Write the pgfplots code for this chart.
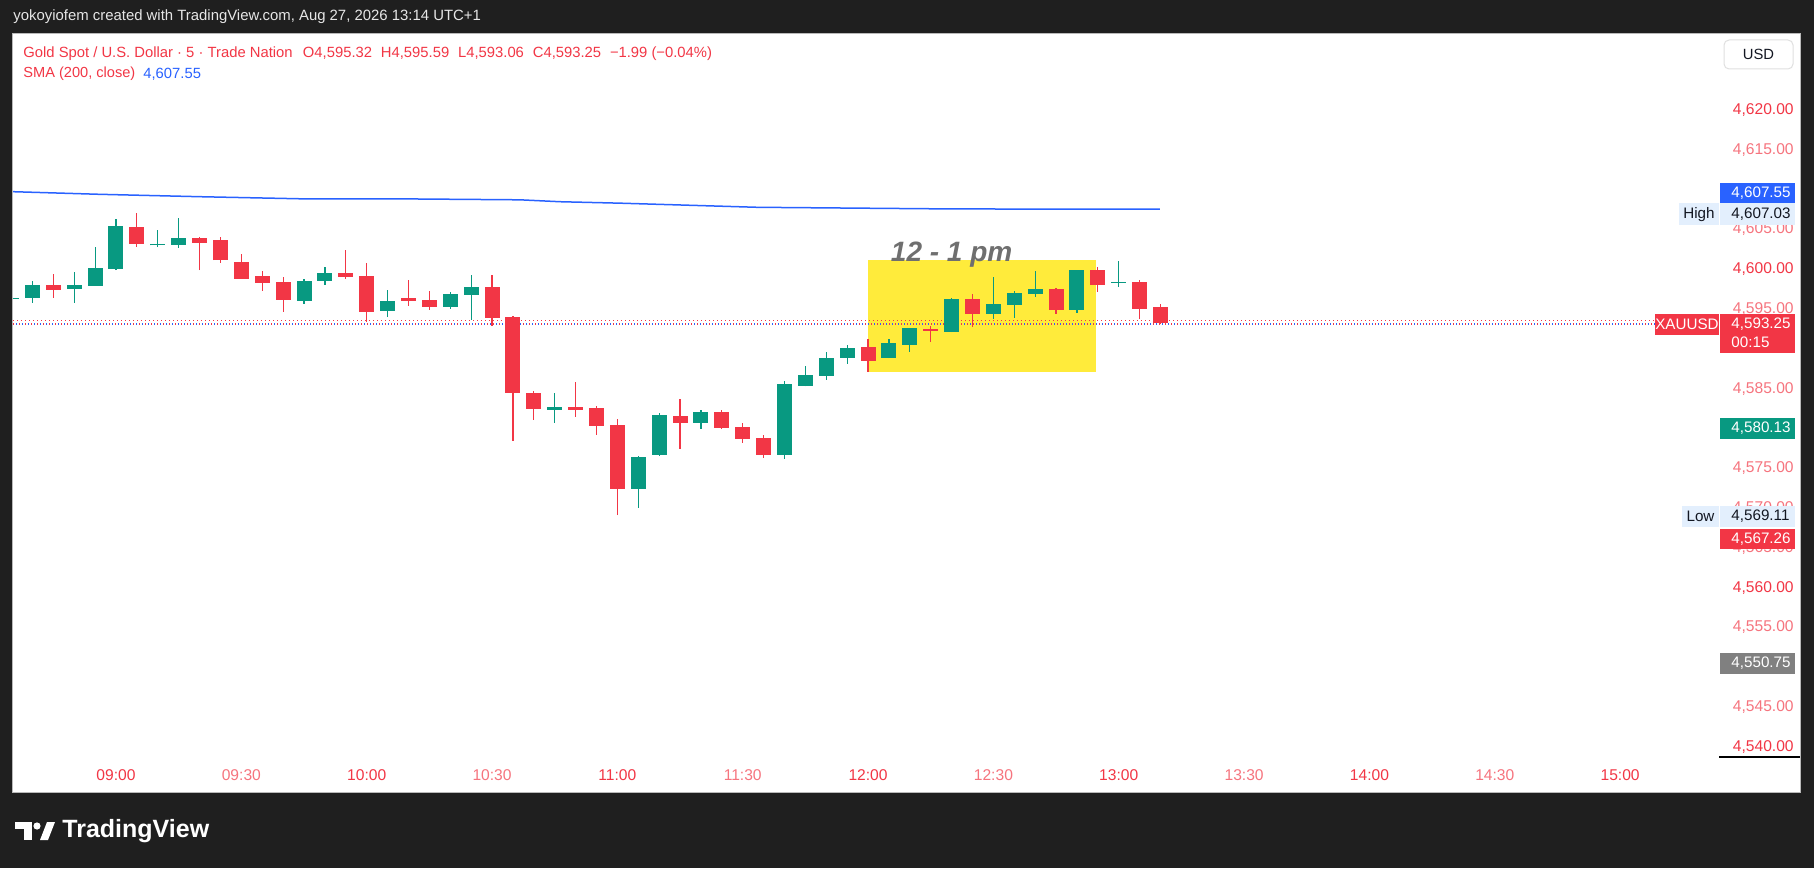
\documentclass[border=0pt]{standalone}
\usepackage{pgfplots}
\pgfplotsset{compat=1.18}
\usepackage{pgfplotstable}
\usepackage{fontspec}
\setmainfont{Liberation Sans}
\definecolor{bgdark}{HTML}{1F1F1F}
\definecolor{cG}{HTML}{089981}
\definecolor{cR}{HTML}{F23645}
\definecolor{cRl}{HTML}{F6747E}
\definecolor{cB}{HTML}{2962FF}
\definecolor{cY}{HTML}{FFEB3B}
\definecolor{cAnn}{HTML}{6F6F6F}
\definecolor{cLt}{HTML}{E3EFFD}
\definecolor{cTx}{HTML}{131722}
\definecolor{cGr}{HTML}{808080}
\definecolor{hdr}{HTML}{E6E6E6}
\newcommand\lD[1]{\mbox{\color{cR}#1}}
\newcommand\lL[1]{\mbox{\color{cRl}#1}}

% i = 5-minute candle index, 0 = 09:00
\pgfplotstableread{
i O H L C
-5 4596.25 4596.50 4596.10 4596.40
-4 4596.43 4598.52 4595.80 4598.02
-2 4597.56 4599.65 4595.80 4598.02
-1 4597.94 4602.79 4597.90 4600.16
0 4600.03 4606.31 4599.90 4605.43
2 4603.00 4604.93 4602.84 4603.14
3 4603.09 4606.44 4602.71 4603.93
9 4596.05 4598.78 4595.68 4598.53
10 4598.57 4600.28 4598.06 4599.53
13 4594.80 4597.39 4594.00 4596.01
16 4595.30 4597.14 4595.05 4596.89
17 4596.81 4599.28 4593.67 4597.77
21 4582.37 4584.46 4580.73 4582.70
25 4572.44 4576.55 4570.06 4576.42
26 4576.71 4581.95 4576.60 4581.70
28 4580.73 4582.32 4579.98 4582.07
32 4576.71 4585.96 4576.21 4585.59
33 4585.38 4587.85 4585.30 4586.72
34 4586.63 4589.61 4586.13 4588.85
35 4588.90 4590.49 4588.14 4590.11
37 4588.90 4591.24 4588.85 4590.74
38 4590.53 4592.65 4589.65 4592.62
40 4592.16 4596.39 4592.10 4596.26
42 4594.42 4599.03 4593.79 4595.63
43 4595.55 4597.27 4593.92 4597.02
44 4596.93 4599.78 4596.56 4597.52
46 4594.92 4599.95 4594.55 4599.91
48 4598.28 4601.04 4597.77 4598.42
}\upcandles

\pgfplotstableread{
i O H L C
-3 4598.02 4599.40 4596.43 4597.44
1 4605.31 4607.03 4602.84 4603.21
4 4603.93 4604.05 4599.90 4603.34
5 4603.67 4604.05 4600.83 4601.16
6 4600.91 4601.92 4598.80 4598.82
7 4599.15 4599.78 4597.31 4598.32
8 4598.40 4599.03 4594.67 4596.18
11 4599.53 4602.42 4598.82 4599.07
12 4599.15 4600.79 4593.42 4594.67
14 4596.39 4598.65 4595.43 4596.05
15 4596.14 4597.27 4594.92 4595.30
18 4597.77 4599.28 4592.91 4593.92
19 4594.00 4594.13 4578.47 4584.50
20 4584.46 4584.71 4581.11 4582.49
22 4582.70 4585.84 4581.49 4582.37
23 4582.57 4582.83 4579.23 4580.36
24 4580.44 4581.19 4569.11 4572.44
27 4581.57 4583.70 4577.47 4580.73
29 4582.07 4582.32 4579.98 4580.10
30 4580.19 4580.69 4578.22 4578.72
31 4578.81 4579.18 4576.34 4576.71
36 4590.24 4591.24 4587.14 4588.52
39 4592.54 4592.87 4590.90 4592.29
41 4596.26 4596.89 4592.79 4594.42
45 4597.52 4597.65 4594.42 4594.92
47 4599.91 4600.28 4597.19 4598.06
49 4598.40 4598.65 4593.79 4595.05
50 4595.32 4595.59 4593.06 4593.25
}\downcandles

\pgfplotstableread{
i v
-4.93 4609.74
-0.77 4609.41
4.02 4609.11
8.81 4608.85
13.12 4608.85
19.34 4608.72
21.25 4608.48
24.10 4608.30
30.70 4607.78
40.15 4607.57
49.97 4607.55
}\sma

\begin{document}
\begin{tikzpicture}
\begin{scope}[x=0.5pt,y=-0.5pt,shift={(0pt,434pt)}]
  \fill[bgdark] (0,0) rectangle (1814,868);
  \fill[white] (13,34) rectangle (1800,792);
  \draw[gray!55, line width=0.5pt] (12.5,33.5) rectangle (1800.5,792.5);
\end{scope}

\begin{axis}[
  at={(6.5pt,55.5pt)}, anchor=south west, scale only axis,
  width=851.5pt, height=361.5pt,
  xmin=-4.93, xmax=76.59, ymin=4538.74, ymax=4629.545,
  axis line style={draw=none}, tick style={draw=none}, major tick length=0pt,
  xtick={0,6,...,72},
  xticklabels={\lD{09:00},\lL{09:30},\lD{10:00},\lL{10:30},\lD{11:00},\lL{11:30},\lD{12:00},\lL{12:30},\lD{13:00},\lL{13:30},\lD{14:00},\lL{14:30},\lD{15:00}},
  ytick={4540,4545,4555,4560,4565,4570,4575,4585,4595,4600,4605,4615,4620},
  yticklabels={\lD{4,540.00},\lL{4,545.00},\lL{4,555.00},\lD{4,560.00},\lL{4,565.00},\lL{4,570.00},\lL{4,575.00},\lL{4,585.00},\lL{4,595.00},\lD{4,600.00},\lL{4,605.00},\lL{4,615.00},\lD{4,620.00}},
  yticklabel pos=right,
  xticklabel style={anchor=center, yshift=-9pt, inner sep=0pt, font=\fontsize{7.8}{9}\selectfont},
  yticklabel style={anchor=east, xshift=39pt, inner sep=0pt, font=\fontsize{7.8}{9}\selectfont},
]
% 12 - 1 pm highlight
\addplot[fill=cY, draw=none] coordinates {(36,4587.10) (46.9,4587.10) (46.9,4601.16) (36,4601.16)};
% price lines
\addplot[cR, line width=0.6pt, dash pattern=on 0.6pt off 1.4pt] coordinates {(-4.93,4593.56) (73.67,4593.56)};
\addplot[cR, line width=0.7pt, dash pattern=on 0.7pt off 2.3pt] coordinates {(-4.93,4593.10) (73.67,4593.10)};
\addplot[cB, line width=0.7pt, dash pattern=on 0.7pt off 2.3pt, dash phase=1.5pt] coordinates {(-4.93,4593.10) (73.67,4593.10)};
% SMA 200
\addplot[cB, line width=0.75pt] table[x=i, y=v] {\sma};
% wicks
\addplot[draw=none, no markers, error bars/.cd, y dir=plus, y explicit, error mark=none,
  error bar style={draw=cG, line width=0.6pt}]
  table[x=i, y=L, y error plus expr=\thisrow{H}-\thisrow{L}] {\upcandles};
\addplot[draw=none, no markers, error bars/.cd, y dir=plus, y explicit, error mark=none,
  error bar style={draw=cR, line width=0.6pt}]
  table[x=i, y=L, y error plus expr=\thisrow{H}-\thisrow{L}] {\downcandles};
% bodies
\addplot[draw=none, no markers, error bars/.cd, y dir=plus, y explicit, error mark=none,
  error bar style={draw=cG, line width=7.5pt}]
  table[x=i, y=O, y error plus expr=\thisrow{C}-\thisrow{O}] {\upcandles};
\addplot[draw=none, no markers, error bars/.cd, y dir=plus, y explicit, error mark=none,
  error bar style={draw=cR, line width=7.5pt}]
  table[x=i, y=C, y error plus expr=\thisrow{O}-\thisrow{C}] {\downcandles};
\node[anchor=base, text=cAnn, font=\fontsize{14}{16}\selectfont\bfseries\itshape] at (axis cs:40,4600.95) {12 - 1 pm};
\end{axis}

\begin{scope}[x=0.5pt,y=-0.5pt,shift={(0pt,434pt)}]
  % header
  \node[anchor=west, inner sep=0pt, text=hdr, font=\fontsize{7.45}{8}\selectfont] at (13,17) {yokoyiofem created with TradingView.com, Aug 27, 2026 13:14 UTC+1};
  \node[anchor=west, inner sep=0pt, text=cR, font=\fontsize{7.4}{8}\selectfont] at (23,54) {Gold Spot / U.S. Dollar · 5 · Trade Nation\hspace{0.7em}O4,595.32\hspace{0.6em}H4,595.59\hspace{0.6em}L4,593.06\hspace{0.6em}C4,593.25\hspace{0.6em}−1.99 (−0.04\%)};
  \node[anchor=west, inner sep=0pt, text=cR, font=\fontsize{7.3}{8}\selectfont] at (23,74) {SMA (200, close)};
  \node[anchor=west, inner sep=0pt, text=cB, font=\fontsize{7.4}{8}\selectfont] at (143,74) {4,607.55};
  % USD box
  \draw[draw=black!12, fill=white, line width=0.5pt, rounded corners=2.5pt] (1724,40) rectangle (1793,69);
  \node[text=cTx, font=\fontsize{7.4}{8}\selectfont] at (1758.5,54.5) {USD};
  % badges
  \fill[cB] (1720,183.3) rectangle (1795,203.3);
  \node[anchor=west, inner sep=0pt, text=white, font=\fontsize{7.6}{8}\selectfont] at (1731,193.3) {4,607.55};
  \fill[cLt] (1679,203.5) rectangle (1719,225);
  \fill[cLt] (1720,203.5) rectangle (1795,225);
  \node[text=cTx, font=\fontsize{7.6}{8}\selectfont] at (1699,214.3) {High};
  \node[anchor=west, inner sep=0pt, text=cTx, font=\fontsize{7.6}{8}\selectfont] at (1731,214.3) {4,607.03};
  \fill[cR] (1655,314) rectangle (1719,335);
  \node[text=white, font=\fontsize{7.6}{8}\selectfont] at (1687,324.5) {XAUUSD};
  \fill[cR] (1720,314) rectangle (1795,353);
  \node[anchor=west, inner sep=0pt, text=white, font=\fontsize{7.6}{8}\selectfont] at (1731,324) {4,593.25};
  \node[anchor=west, inner sep=0pt, text=white, font=\fontsize{7.6}{8}\selectfont] at (1731,342) {00:15};
  \fill[cG] (1720,418) rectangle (1795,439);
  \node[anchor=west, inner sep=0pt, text=white, font=\fontsize{7.6}{8}\selectfont] at (1731,428.5) {4,580.13};
  \fill[cLt] (1682,506) rectangle (1719,527);
  \fill[cLt] (1720,506) rectangle (1795,527);
  \node[text=cTx, font=\fontsize{7.6}{8}\selectfont] at (1700.5,516.5) {Low};
  \node[anchor=west, inner sep=0pt, text=cTx, font=\fontsize{7.6}{8}\selectfont] at (1731,516.5) {4,569.11};
  \fill[cR] (1720,528.7) rectangle (1795,548.7);
  \node[anchor=west, inner sep=0pt, text=white, font=\fontsize{7.6}{8}\selectfont] at (1731,538.7) {4,567.26};
  \fill[cGr] (1720,653) rectangle (1795,674);
  \node[anchor=west, inner sep=0pt, text=white, font=\fontsize{7.6}{8}\selectfont] at (1731,663.5) {4,550.75};
  \draw[black, line width=0.6pt] (1719,757) -- (1800,757);
  % TradingView logo
  \fill[white] (15,822) rectangle (32,829);
  \fill[white] (24,822) rectangle (32,840);
  \fill[white] (37,826) circle (3.6);
  \fill[white] (40,840) -- (47,822) -- (55,822) -- (48,840) -- cycle;
  \node[anchor=west, inner sep=0pt, text=white, font=\fontsize{12.5}{14}\selectfont\bfseries] at (62,831) {TradingView};
\end{scope}
\pgfresetboundingbox
\path (0,0) rectangle (907pt,434pt);
\end{tikzpicture}
\end{document}
